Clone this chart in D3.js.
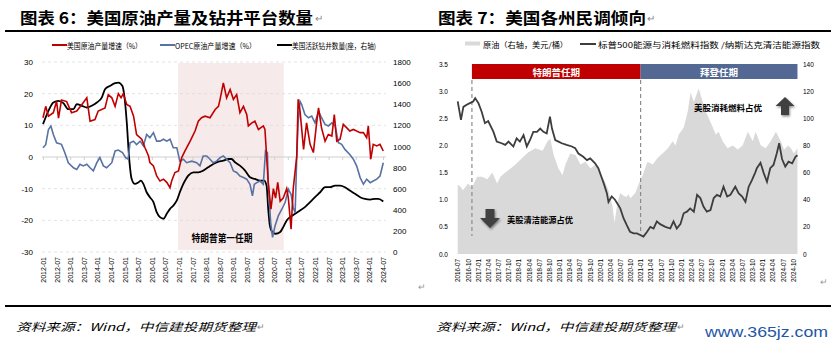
<!DOCTYPE html>
<html><head><meta charset="utf-8">
<script src="https://cdn.jsdelivr.net/npm/d3@7"></script>
<style>body{margin:0;background:#fff;}svg{display:block;}</style>
</head><body>
<svg id="c" width="831" height="346"></svg>
<script>
// ---------- DATA : chart 6 ----------
const leftXTicks = ["2012-01","2012-07","2013-01","2013-07","2014-01","2014-07","2015-01","2015-07","2016-01","2016-07","2017-01","2017-07","2018-01","2018-07","2019-01","2019-07","2020-01","2020-07","2021-01","2021-07","2022-01","2022-07","2023-01","2023-07","2024-01","2024-07"];
const leftYTicks = [30,20,10,0,-10,-20,-30];
const rightYTicks = [0,200,400,600,800,1000,1200,1400,1600,1800];
const trumpFirstTerm = [2016.96, 2020.85];
// [decimal year, %]
const usCrudeGrowth = [[2012.00,12.4],[2012.10,16],[2012.20,12.9],[2012.38,14],[2012.50,17.6],[2012.57,12.3],[2012.68,18],[2012.87,17.5],[2013.05,14],[2013.24,14.5],[2013.43,16.6],[2013.61,18.7],[2013.73,11.3],[2013.91,11.8],[2014.03,14.5],[2014.28,15.5],[2014.40,19.7],[2014.53,18.7],[2014.65,16],[2014.77,20],[2014.87,18.7],[2014.95,20],[2015.08,16.6],[2015.20,16],[2015.33,12.9],[2015.44,7.1],[2015.63,5.6],[2015.75,2.9],[2015.88,0.3],[2015.93,-1.8],[2016.06,-2.8],[2016.18,-6],[2016.30,-7.6],[2016.43,-7],[2016.55,-8],[2016.67,-9.7],[2016.73,-7.6],[2016.85,-4.9],[2016.98,-4.4],[2017.10,-0.2],[2017.22,1.9],[2017.41,5],[2017.59,8.2],[2017.71,11.3],[2017.83,12.4],[2017.96,12.9],[2018.14,12.4],[2018.33,15],[2018.45,16],[2018.51,18.2],[2018.63,23.4],[2018.75,18.7],[2018.88,21.3],[2019.00,18.2],[2019.12,19.7],[2019.24,14],[2019.37,16],[2019.49,13.4],[2019.55,9.8],[2019.68,10.8],[2019.79,11.3],[2019.92,8.7],[2020.10,9.8],[2020.16,8.7],[2020.28,-8],[2020.38,-16.5],[2020.47,-10],[2020.55,-13],[2020.63,-8],[2020.72,-14],[2020.83,-13],[2020.96,-10],[2021.02,-13],[2021.12,-22.8],[2021.20,-10],[2021.33,0.3],[2021.38,18.2],[2021.45,14.5],[2021.58,2.4],[2021.69,10.8],[2021.82,4],[2021.94,1.4],[2022.06,10.8],[2022.13,15.5],[2022.24,9.2],[2022.37,5],[2022.49,7.1],[2022.62,6.6],[2022.71,13.4],[2022.80,5],[2022.92,5.6],[2023.04,10.3],[2023.17,9.2],[2023.28,8.2],[2023.41,8.7],[2023.53,8.2],[2023.66,7.7],[2023.78,7.7],[2023.90,6.1],[2023.96,9.8],[2024.05,-0.7],[2024.14,4],[2024.27,3.5],[2024.39,4],[2024.51,1.9]];
const opecCrudeGrowth = [[2012.00,2.9],[2012.10,3.9],[2012.20,8.7],[2012.29,9.8],[2012.38,7.1],[2012.50,4.5],[2012.68,4],[2012.80,1.4],[2012.93,-1.8],[2013.12,-3.4],[2013.24,-3.9],[2013.36,-2.3],[2013.48,-2.8],[2013.61,-2.3],[2013.73,-3.4],[2013.85,-4.4],[2013.98,-1.8],[2014.09,-0.2],[2014.22,-2.8],[2014.34,-3.4],[2014.53,-1.8],[2014.65,1.9],[2014.77,2.2],[2014.92,1.4],[2015.04,-0.2],[2015.13,-0.7],[2015.20,4.5],[2015.33,5],[2015.44,3.9],[2015.57,5],[2015.69,3.5],[2015.81,7.1],[2015.93,6.1],[2016.06,7.7],[2016.18,5],[2016.30,5],[2016.43,5.6],[2016.55,5],[2016.67,5.6],[2016.79,2.9],[2016.92,2.9],[2017.03,-1.3],[2017.16,-0.7],[2017.28,-1.8],[2017.47,-1.3],[2017.65,-1.8],[2017.77,-2.8],[2017.89,0.3],[2018.02,0.3],[2018.14,-0.7],[2018.26,-1.8],[2018.38,-1.3],[2018.51,-0.2],[2018.63,0.3],[2018.75,-0.7],[2018.88,-1.8],[2019.00,-4.4],[2019.12,-4.9],[2019.24,-6],[2019.37,-6.5],[2019.49,-7],[2019.61,-8.6],[2019.70,-12.3],[2019.77,-8.6],[2019.86,-8.1],[2019.98,-7.6],[2020.10,-8.6],[2020.18,1.9],[2020.25,1.4],[2020.28,-8],[2020.37,-20.7],[2020.44,-25.4],[2020.53,-21.8],[2020.65,-18.6],[2020.78,-16.5],[2020.90,-14.4],[2021.02,-10.2],[2021.12,-11.8],[2021.20,-16],[2021.27,-17.6],[2021.33,0.3],[2021.38,10.8],[2021.45,17.6],[2021.51,16.6],[2021.63,13.4],[2021.76,12.4],[2021.88,12.9],[2022.00,10.8],[2022.13,14.5],[2022.24,12.4],[2022.37,10.3],[2022.49,9.8],[2022.62,10.8],[2022.74,9.8],[2022.86,4.5],[2022.98,4],[2023.10,2.4],[2023.28,0.8],[2023.41,-0.7],[2023.53,-2.8],[2023.66,-6.5],[2023.78,-8.6],[2023.90,-7],[2024.03,-8.1],[2024.14,-7.6],[2024.27,-7],[2024.39,-6],[2024.51,-1.8]];
const usActiveRigs = [[2012.00,1211],[2012.20,1337],[2012.38,1416],[2012.57,1432],[2012.75,1410],[2012.93,1353],[2013.12,1353],[2013.24,1400],[2013.43,1385],[2013.61,1369],[2013.79,1385],[2013.98,1416],[2014.16,1463],[2014.28,1542],[2014.46,1573],[2014.65,1599],[2014.77,1605],[2014.92,1573],[2014.99,1479],[2015.08,1227],[2015.16,913],[2015.26,692],[2015.38,645],[2015.51,660],[2015.60,676],[2015.69,645],[2015.81,566],[2015.93,519],[2016.06,472],[2016.18,378],[2016.30,330],[2016.43,315],[2016.55,362],[2016.67,409],[2016.79,440],[2016.92,488],[2017.03,566],[2017.16,645],[2017.34,724],[2017.53,755],[2017.71,755],[2017.89,771],[2018.07,802],[2018.26,834],[2018.45,856],[2018.63,865],[2018.82,881],[2018.93,881],[2019.06,850],[2019.24,818],[2019.43,771],[2019.61,708],[2019.79,692],[2019.98,676],[2020.13,676],[2020.22,629],[2020.28,409],[2020.34,252],[2020.43,189],[2020.55,173],[2020.72,189],[2020.83,236],[2020.96,299],[2021.08,330],[2021.27,362],[2021.45,393],[2021.63,425],[2021.82,472],[2022.00,519],[2022.19,566],[2022.37,614],[2022.55,614],[2022.74,629],[2022.92,629],[2023.10,614],[2023.28,582],[2023.47,551],[2023.66,519],[2023.84,503],[2024.03,497],[2024.21,503],[2024.33,503],[2024.51,478]];

// ---------- DATA : chart 7 ----------
const r7XTicks = ["2016-07","2016-10","2017-01","2017-04","2017-07","2017-10","2018-01","2018-04","2018-07","2018-10","2019-01","2019-04","2019-07","2019-10","2020-01","2020-04","2020-07","2020-10","2021-01","2021-04","2021-07","2021-10","2022-01","2022-04","2022-07","2022-10","2023-01","2023-04","2023-07","2023-10","2024-01","2024-04","2024-07","2024-10"];
const r7LeftTicks = [0,0.5,1,1.5,2,2.5,3,3.5];
const r7RightTicks = [0,20,40,60,80,100,120,140];
const terms = [{name:"特朗普任期", from:2016.85, to:2021.0, color:"#c00000"},{name:"拜登任期", from:2021.0, to:2024.86, color:"#536892"}];
// crude oil (USD/bbl, right axis)
const crudeOil = [[2016.50,51],[2016.56,50],[2016.63,47],[2016.68,49],[2016.75,52],[2016.85,49],[2016.98,57],[2017.10,57],[2017.23,55],[2017.35,60],[2017.47,52],[2017.55,57],[2017.67,60],[2017.80,63],[2017.92,66],[2018.09,71],[2018.24,75],[2018.41,78],[2018.59,76],[2018.71,83],[2018.78,85],[2018.86,73],[2018.98,63],[2019.08,58],[2019.15,66],[2019.27,74],[2019.40,73],[2019.52,66],[2019.64,68],[2019.77,63],[2019.89,66],[2019.96,63],[2020.01,60],[2020.14,52],[2020.21,47],[2020.31,35],[2020.36,23],[2020.43,38],[2020.50,45],[2020.58,43],[2020.65,42],[2020.70,44],[2020.75,41],[2020.87,45],[2021.00,55],[2021.05,58],[2021.17,68],[2021.30,66],[2021.42,71],[2021.54,74],[2021.67,78],[2021.79,83],[2021.86,80],[2021.94,88],[2022.06,93],[2022.16,105],[2022.23,119],[2022.31,112],[2022.43,122],[2022.53,112],[2022.60,105],[2022.68,100],[2022.78,93],[2022.85,88],[2022.92,90],[2023.02,83],[2023.14,78],[2023.27,80],[2023.39,77],[2023.51,80],[2023.64,90],[2023.76,83],[2023.83,90],[2023.96,80],[2024.08,78],[2024.20,83],[2024.33,90],[2024.45,83],[2024.53,77],[2024.63,80],[2024.70,78],[2024.77,74],[2024.86,78]];
// S&P500 energy & consumable fuels / Nasdaq clean energy (left axis)
const energyRatio = [[2016.50,2.81],[2016.58,2.47],[2016.64,2.71],[2016.72,2.75],[2016.80,2.78],[2016.88,2.81],[2016.93,2.87],[2017.01,2.78],[2017.09,2.62],[2017.17,2.41],[2017.25,2.45],[2017.38,2.25],[2017.46,2.07],[2017.58,2.04],[2017.67,2.01],[2017.75,2.07],[2017.87,1.98],[2017.95,2.13],[2018.03,2.07],[2018.12,2.19],[2018.20,1.98],[2018.28,2.10],[2018.36,2.25],[2018.45,2.25],[2018.53,2.31],[2018.61,2.25],[2018.69,2.22],[2018.77,2.53],[2018.82,2.31],[2018.90,2.10],[2018.98,2.07],[2019.06,2.04],[2019.18,2.01],[2019.31,1.98],[2019.39,1.95],[2019.47,1.85],[2019.59,1.79],[2019.68,1.73],[2019.76,1.76],[2019.88,1.67],[2019.96,1.58],[2020.05,1.39],[2020.09,1.31],[2020.17,1.12],[2020.21,0.96],[2020.29,1.06],[2020.37,1.0],[2020.42,0.94],[2020.50,0.84],[2020.58,0.66],[2020.66,0.53],[2020.74,0.41],[2020.83,0.38],[2020.91,0.38],[2020.99,0.35],[2021.07,0.32],[2021.16,0.41],[2021.24,0.50],[2021.32,0.47],[2021.40,0.60],[2021.48,0.55],[2021.61,0.50],[2021.73,0.47],[2021.81,0.60],[2021.89,0.47],[2021.98,0.55],[2022.06,0.75],[2022.14,0.78],[2022.22,0.84],[2022.31,0.78],[2022.39,1.09],[2022.47,1.03],[2022.55,0.87],[2022.63,0.78],[2022.72,0.81],[2022.80,1.03],[2022.88,1.09],[2022.96,1.06],[2023.04,1.24],[2023.13,1.06],[2023.21,1.09],[2023.33,1.24],[2023.41,1.12],[2023.50,1.06],[2023.58,0.96],[2023.66,1.24],[2023.74,1.36],[2023.82,1.50],[2023.86,1.58],[2023.95,1.68],[2024.03,1.49],[2024.11,1.33],[2024.19,1.58],[2024.27,1.64],[2024.35,1.85],[2024.41,2.04],[2024.48,1.75],[2024.56,1.61],[2024.64,1.70],[2024.73,1.67],[2024.81,1.79],[2024.86,1.82]];

// ---------- helpers ----------
const toT = s => +s.slice(0,4) + (+s.slice(5,7)-1)/12;
const svg = d3.select("#c");
const CJK = "'Noto Sans CJK SC','Noto Sans',sans-serif";
const LAT = "'Liberation Sans',Arial,sans-serif";

function txt(g, x, y, s, o={}) {
  const t = g.append("text").attr("x",x).attr("y",y).text(s)
    .attr("font-family", o.ff||CJK).attr("font-size", o.fs||8)
    .attr("fill", o.fill||"#000").attr("font-weight", o.fw||"normal")
    .attr("dominant-baseline","central");
  if (o.anchor) t.attr("text-anchor", o.anchor);
  if (o.len) t.attr("textLength", o.len).attr("lengthAdjust","spacingAndGlyphs");
  if (o.style) t.attr("font-style", o.style);
  return t;
}

// ---------- frame / titles ----------
svg.append("line").attr("x1",5).attr("x2",831).attr("y1",31).attr("y2",31).attr("stroke","#000").attr("stroke-width",2.2);
svg.append("line").attr("x1",5).attr("x2",831).attr("y1",306).attr("y2",306).attr("stroke","#000").attr("stroke-width",2.2);
txt(svg, 20, 17, "图表 6：美国原油产量及钻井平台数量", {fs:16, fw:"bold", len:293});
txt(svg, 315, 18, "↵", {fs:10, fill:"#888", ff:LAT});
txt(svg, 438, 17, "图表 7：美国各州民调倾向", {fs:16, fw:"bold", len:208});
txt(svg, 647, 18, "↵", {fs:10, fill:"#888", ff:LAT});
txt(svg, 16, 326, "资料来源：Wind，中信建投期货整理", {fs:11, style:"italic", len:240});
txt(svg, 257, 327, "↵", {fs:9, fill:"#888", ff:LAT});
txt(svg, 436, 326, "资料来源：Wind，中信建投期货整理", {fs:11, style:"italic", len:240});
txt(svg, 677, 327, "↵", {fs:9, fill:"#888", ff:LAT});
txt(svg, 418, 287, "↵", {fs:9, fill:"#999", ff:LAT});
txt(svg, 820, 282, "↵", {fs:9, fill:"#999", ff:LAT});
txt(svg, 705, 331, "www.365jz.com", {fs:15, fill:"#2456a6", ff:LAT, len:123});

// ---------- chart 6 ----------
const g6 = svg.append("g");
const x6 = d3.scaleLinear().domain([2012, 2024.5]).range([43, 383]);
const y6 = d3.scaleLinear().domain([-30, 30]).range([252, 62]);
const y6r = d3.scaleLinear().domain([0, 1800]).range([252, 62]);

g6.append("rect").attr("x", x6(trumpFirstTerm[0])).attr("width", x6(trumpFirstTerm[1]) - x6(trumpFirstTerm[0]))
  .attr("y", 63).attr("height", 187).attr("fill", "#f7eaea");

g6.selectAll(".grid").data(leftYTicks.filter(d => d !== 0)).join("line")
  .attr("x1", 42).attr("x2", 386).attr("y1", d => y6(d)).attr("y2", d => y6(d))
  .attr("stroke", "#dcdcdc").attr("stroke-width", 0.8).attr("stroke-dasharray", "3,3");

// zero axis with ticks
const zeroAx = g6.append("g").attr("transform", `translate(0,${y6(0)})`)
  .call(d3.axisBottom(x6).tickValues(leftXTicks.map(toT)).tickSize(3).tickFormat(""));
zeroAx.select(".domain").attr("stroke", "#cfcfcf").attr("d", "M42,0H386");
zeroAx.selectAll(".tick line").attr("stroke", "#cfcfcf");

const xLab6 = g6.append("g").attr("transform", "translate(0,253)")
  .call(d3.axisBottom(x6).tickValues(leftXTicks.map(toT)).tickSize(0).tickFormat((d, i) => leftXTicks[i]));
xLab6.select(".domain").remove();
xLab6.selectAll("text").attr("transform", "rotate(-90)").attr("x", -4).attr("y", 0).attr("dy", "0.35em")
  .style("text-anchor", "end").attr("font-family", LAT).attr("font-size", 7).attr("fill", "#000");

const yAx6 = g6.append("g").attr("transform", "translate(36,0)")
  .call(d3.axisLeft(y6).tickValues(leftYTicks).tickSize(0).tickFormat(d => String(d)));
yAx6.select(".domain").remove();
yAx6.selectAll("text").attr("x", -3).attr("font-family", LAT).attr("font-size", 8).attr("fill", "#000");

const yAx6r = g6.append("g").attr("transform", "translate(391,0)")
  .call(d3.axisRight(y6r).tickValues(rightYTicks).tickSize(0).tickFormat(d => String(d)));
yAx6r.select(".domain").remove();
yAx6r.selectAll("text").attr("x", 2).attr("font-family", LAT).attr("font-size", 8).attr("fill", "#000");

const l6 = d3.line().x(d => x6(d[0])).y(d => y6(d[1]));
const l6r = d3.line().x(d => x6(d[0])).y(d => y6r(d[1])).curve(d3.curveMonotoneX);
g6.append("path").datum(usActiveRigs).attr("d", l6r).attr("fill", "none").attr("stroke", "#000").attr("stroke-width", 1.8);
g6.append("path").datum(opecCrudeGrowth).attr("d", l6).attr("fill", "none").attr("stroke", "#5872a3").attr("stroke-width", 1.6);
g6.append("path").datum(usCrudeGrowth).attr("d", l6).attr("fill", "none").attr("stroke", "#c00000").attr("stroke-width", 1.6);

txt(g6, 222, 237, "特朗普第一任期", {fs:10, fw:"bold", anchor:"middle", len:61});

// legend
const leg6 = [["美国原油产量增速（%）", "#c00000", 52, 75], ["OPEC原油产量增速（%）", "#5872a3", 160, 81], ["美国活跃钻井数量(座，右轴)", "#000", 277, 84]];
leg6.forEach(([s, c, x, w]) => {
  g6.append("line").attr("x1", x).attr("x2", x + 15).attr("y1", 45).attr("y2", 45).attr("stroke", c).attr("stroke-width", 2);
  txt(g6, x + 15, 45, s, {fs:7.5, len:w});
});

// ---------- chart 7 ----------
const g7 = svg.append("g");
const x7 = d3.scaleLinear().domain([2016.5, 2024.75]).range([457.7, 793]);
const y7 = d3.scaleLinear().domain([0, 3.5]).range([254, 64]);
const y7r = d3.scaleLinear().domain([0, 140]).range([254, 64]);

g7.append("path").datum(crudeOil)
  .attr("d", d3.area().x(d => x7(d[0])).y0(y7r(0)).y1(d => y7r(d[1])))
  .attr("fill", "#d9d9d9");

terms.forEach(t => {
  g7.append("rect").attr("x", x7(t.from)).attr("width", x7(t.to) - x7(t.from)).attr("y", 64).attr("height", 15).attr("fill", t.color);
  txt(g7, (x7(t.from) + x7(t.to)) / 2, 72, t.name, {fs:9.5, fw:"bold", fill:"#fff", anchor:"middle"});
  g7.append("line").attr("x1", x7(t.from)).attr("x2", x7(t.from)).attr("y1", 80).attr("y2", 236)
    .attr("stroke", "#8c8c8c").attr("stroke-width", 1.2).attr("stroke-dasharray", "4,3");
});

g7.append("path").datum(energyRatio).attr("d", d3.line().x(d => x7(d[0])).y(d => y7(d[1])))
  .attr("fill", "none").attr("stroke", "#3d3d3d").attr("stroke-width", 1.8);

const xLab7 = g7.append("g").attr("transform", "translate(0,255)")
  .call(d3.axisBottom(x7).tickValues(r7XTicks.map(toT)).tickSize(0).tickFormat((d, i) => r7XTicks[i]));
xLab7.select(".domain").remove();
xLab7.selectAll("text").attr("transform", "rotate(-90)").attr("x", -4).attr("y", 0).attr("dy", "0.35em")
  .style("text-anchor", "end").attr("font-family", LAT).attr("font-size", 6.3).attr("fill", "#000");

const yAx7 = g7.append("g").attr("transform", "translate(450,0)")
  .call(d3.axisLeft(y7).tickValues(r7LeftTicks).tickSize(0).tickFormat(d3.format(".1f")));
yAx7.select(".domain").remove();
yAx7.selectAll("text").attr("x", -2).attr("font-family", LAT).attr("font-size", 6.5).attr("fill", "#000");

const yAx7r = g7.append("g").attr("transform", "translate(801,0)")
  .call(d3.axisRight(y7r).tickValues(r7RightTicks).tickSize(0).tickFormat(d => String(d)));
yAx7r.select(".domain").remove();
yAx7r.selectAll("text").attr("x", 2).attr("font-family", LAT).attr("font-size", 6.5).attr("fill", "#000");

// arrows
const defs = svg.append("defs");
const f = defs.append("filter").attr("id", "sh").attr("x", "-50%").attr("y", "-50%").attr("width", "200%").attr("height", "200%");
f.append("feDropShadow").attr("dx", 1).attr("dy", 1.5).attr("stdDeviation", 1.2).attr("flood-color", "#000").attr("flood-opacity", 0.45);
g7.append("path").attr("d", "M485.5,209H494.5V218H500L490,228L480,218H485.5Z").attr("fill", "#404040").attr("filter", "url(#sh)");
g7.append("path").attr("d", "M781,115H789V106H794.5L785,97L775.5,106H781Z").attr("fill", "#404040").attr("filter", "url(#sh)");
txt(g7, 507, 219, "美股清洁能源占优", {fs:8.5, fw:"bold", len:66});
txt(g7, 694, 107, "美股消耗燃料占优", {fs:8.5, fw:"bold", len:68});

// legend
g7.append("rect").attr("x", 465).attr("y", 41.5).attr("width", 15).attr("height", 4).attr("fill", "#d9d9d9");
txt(g7, 483, 44, "原油（右轴，美元/桶）", {fs:7.5, len:85});
g7.append("line").attr("x1", 580).attr("x2", 596).attr("y1", 44).attr("y2", 44).attr("stroke", "#3d3d3d").attr("stroke-width", 2);
txt(g7, 598, 44, "标普500能源与消耗燃料指数 /纳斯达克清洁能源指数", {fs:7.5, len:222});
</script>
</body></html>
